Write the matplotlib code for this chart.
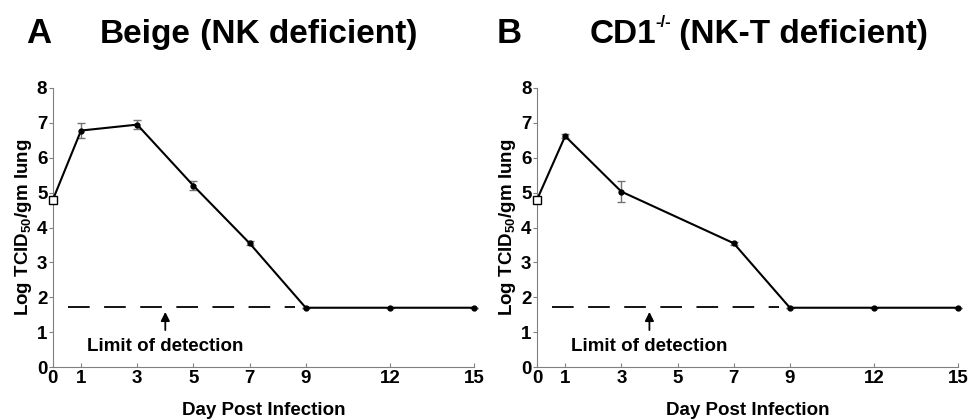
import matplotlib
matplotlib.use("Agg")
import matplotlib.pyplot as plt

plt.rcParams["font.family"] = ["Liberation Sans", "DejaVu Sans"]
plt.rcParams["font.weight"] = "bold"
plt.rcParams["mathtext.fontset"] = "custom"
plt.rcParams["mathtext.rm"] = "Liberation Sans:bold"
plt.rcParams["mathtext.bf"] = "Liberation Sans:bold"

# --------------------------
# Data
# --------------------------
day_ticks = [0, 1, 3, 5, 7, 9, 12, 15]

days_a = [0, 1, 3, 5, 7, 9, 12, 15]
titer_a = [4.8, 6.78, 6.95, 5.2, 3.55, 1.7, 1.7, 1.7]
err_a = [0, 0.21, 0.13, 0.13, 0.05, 0, 0, 0]

days_b = [0, 1, 3, 7, 9, 12, 15]
titer_b = [4.8, 6.62, 5.03, 3.55, 1.7, 1.7, 1.7]
err_b = [0, 0.05, 0.3, 0.04, 0, 0, 0]

detection_limit = 1.72

panels = [
    ("A", "Beige", " (NK deficient)", days_a, titer_a, err_a),
    ("B", "CD1", " (NK-T deficient)", days_b, titer_b, err_b),
]

fig = plt.figure(figsize=(9.8, 4.19), dpi=100)
renderer = fig.canvas.get_renderer()
lefts = [0.054, 0.548]
letter_x = [0.027, 0.507]
title_x = [0.102, 0.602]

for (letter, name, rest, days, titer, err), left, lx, tx in zip(panels, lefts, letter_x, title_x):
    ax = fig.add_axes([left, 0.124, 0.43, 0.666])
    ax.errorbar(days, titer, yerr=err, color="black", lw=1.5, marker="o",
                markersize=3.5, ecolor="0.45", elinewidth=1, capsize=3,
                clip_on=False, zorder=3)
    ax.plot([days[0]], [titer[0]], marker="s", markersize=6, mfc="white",
            mec="black", mew=1, linestyle="none", clip_on=False, zorder=4)
    ax.plot([0.53, 8.6], [detection_limit, detection_limit], color="black",
            lw=1.3, dashes=(12, 8))
    ax.annotate("", xy=(4, 1.66), xytext=(4, 0.98),
                arrowprops=dict(arrowstyle="-|>", color="black", lw=1.3,
                                mutation_scale=13))
    ax.text(4, 0.58, "Limit of detection", ha="center", va="center",
            fontsize=13.5, fontweight="bold")

    ax.set_xlim(0, 15)
    ax.set_ylim(0, 8)
    ax.set_xticks(day_ticks)
    ax.set_yticks(range(0, 9))
    ax.tick_params(labelsize=13.5, width=0.8, colors="0.5", labelcolor="black")
    ax.tick_params(axis="y", direction="out", length=3, pad=1)
    ax.tick_params(axis="x", direction="in", length=3, pad=2)
    for lab in ax.get_xticklabels() + ax.get_yticklabels():
        lab.set_fontweight("bold")
    ax.spines["top"].set_visible(False)
    ax.spines["right"].set_visible(False)
    ax.spines["left"].set_color("0.5")
    ax.spines["bottom"].set_color("0.5")
    ax.set_xlabel("Day Post Infection", fontsize=13.5, fontweight="bold",
                  labelpad=11)
    ax.set_ylabel(r"Log TCID$_{50}$/gm lung", fontsize=13.5,
                  fontweight="bold", labelpad=2)

    # panel letter and title
    fig.text(lx, 0.897, letter, fontsize=25, fontweight="bold",
             va="baseline")
    t = fig.text(tx, 0.897, name, fontsize=24, fontweight="bold",
                 va="baseline")
    w = t.get_window_extent(renderer).width / fig.bbox.width
    if letter == "B":
        s = fig.text(tx + w - 0.001, 0.935, "-/-", fontsize=12,
                     fontweight="bold", va="baseline")
        w += s.get_window_extent(renderer).width / fig.bbox.width - 0.002
    fig.text(tx + w, 0.897, rest, fontsize=24, fontweight="bold",
             va="baseline")

fig.savefig("out.png", dpi=100)
